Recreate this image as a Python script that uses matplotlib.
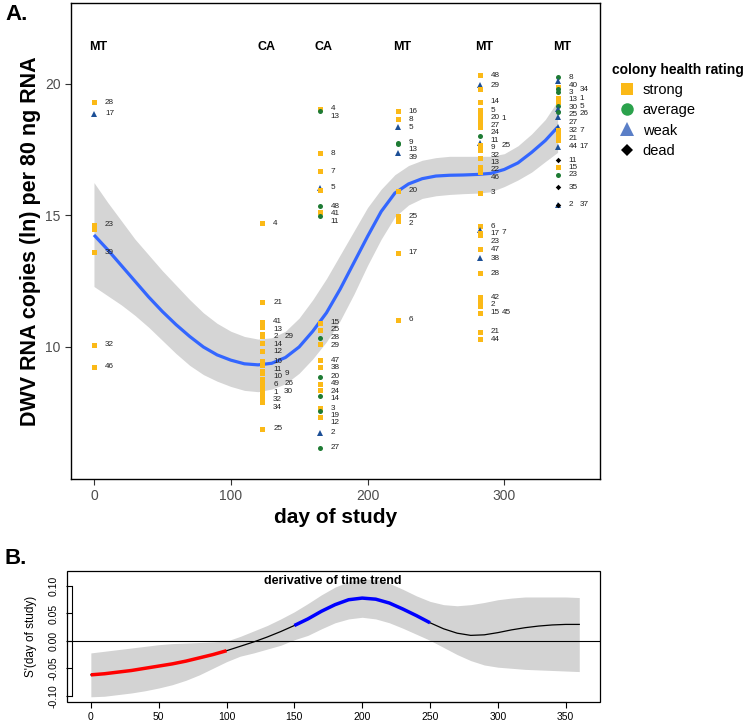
import matplotlib
matplotlib.use('Agg')
import matplotlib.pyplot as plt
from matplotlib.patches import Rectangle
from matplotlib.lines import Line2D
import numpy as np

plt.rcParams['font.family'] = ['Liberation Sans', 'DejaVu Sans']

# ---------------- data ----------------
col_days = [0, 123, 165, 222, 282, 339]
col_headers = ['MT', 'CA', 'CA', 'MT', 'MT', 'MT']

c0_vals = [19.3, 18.86, 14.65, 14.5, 13.6, 10.08, 9.25]
c0_health = ['s', 'w', 's', 's', 's', 's', 's']
c0_ids = ['28', '17', '23', '', '39', '32', '46']

c1_vals = [14.7, 11.7, 10.95, 10.75, 10.5, 10.4, 10.15, 9.85, 9.45, 9.3, 9.1, 9.0,
           8.8, 8.6, 8.4, 8.3, 8.1, 7.9, 6.9]
c1_health = ['s'] * 19
c1_ids = ['4', '21', '41', '13', '2', '29', '14', '12', '16', '11', '10', '9',
          '6', '26', '1', '30', '32', '34', '25']

c2_vals = [19.05, 18.98, 17.37, 16.69, 16.06, 15.98, 15.36, 15.15, 14.98, 10.93, 10.65,
           10.36, 10.11, 9.5, 9.25, 8.87, 8.6, 8.35, 8.14, 7.67, 7.55, 7.35, 6.74, 6.17]
c2_health = ['s', 'a', 's', 's', 'w', 's', 'a', 's', 'a', 's', 's',
             'a', 's', 's', 's', 'a', 's', 's', 'a', 's', 'a', 's', 'w', 'a']
c2_ids = ['4', '13', '8', '7', '5', '', '48', '41', '11', '15', '25',
          '28', '29', '47', '38', '20', '49', '24', '14', '3', '19', '12', '2', '27']

c3_vals = [18.97, 18.66, 18.35, 17.77, 17.72, 17.39, 15.94, 14.97, 14.8, 13.59, 11.03]
c3_health = ['s', 's', 'w', 'a', 'a', 'w', 's', 's', 's', 's', 's']
c3_ids = ['16', '8', '5', '9', '13', '39', '20', '25', '2', '17', '6']

c4_vals = [20.34, 19.96, 19.8, 19.33, 19.0, 18.9, 18.7, 18.5, 18.38, 18.02, 17.77, 17.68,
           17.49, 17.17, 16.85, 16.65, 15.87, 14.6, 14.45, 14.35, 14.25, 13.71, 13.37,
           12.8, 11.9, 11.75, 11.55, 11.31, 10.58, 10.3]
c4_health = ['s', 'w', 's', 's', 's', 's', 's', 's', 's', 'a', 'w', 's',
             's', 's', 's', 's', 's', 's', 'w', 's', 's', 's', 'w',
             's', 's', 's', 's', 's', 's', 's']
c4_ids = ['48', '29', '', '14', '5', '20', '1', '27', '24', '11', '9', '25',
          '32', '13', '22', '46', '3', '6', '17', '7', '23', '47', '38',
          '28', '42', '2', '15', '45', '21', '44']

c5_vals = [20.25, 20.1, 19.9, 19.8, 19.7, 19.46, 19.33, 19.15, 19.05, 18.95, 18.76, 18.38,
           18.25, 18.05, 17.87, 17.62, 17.11, 16.83, 16.54, 16.07, 15.4, 15.4]
c5_health = ['a', 'w', 's', 'a', 'a', 's', 's', 'a', 'w', 'a', 'w', 'w',
             's', 's', 's', 'w', 'd', 's', 'a', 'd', 'w', 'd']
c5_ids = ['8', '40', '3', '34', '13', '1', '30', '5', '25', '26', '27', '32',
          '7', '21', '44', '17', '11', '15', '23', '35', '2', '37']

columns = [(c0_vals, c0_health, c0_ids), (c1_vals, c1_health, c1_ids),
           (c2_vals, c2_health, c2_ids), (c3_vals, c3_health, c3_ids),
           (c4_vals, c4_health, c4_ids), (c5_vals, c5_health, c5_ids)]

smooth_day = [0, 10, 20, 30, 40, 50, 60, 70, 80, 90, 100, 110, 120, 130, 140, 150, 160, 170,
              180, 190, 200, 210, 220, 230, 240, 250, 260, 270, 280, 290, 300, 310, 320, 330, 339]
smooth_fit = [14.26, 13.7, 13.1, 12.5, 11.9, 11.35, 10.85, 10.4, 10.0, 9.7, 9.5, 9.36, 9.32,
              9.38, 9.6, 10.0, 10.6, 11.3, 12.2, 13.2, 14.2, 15.15, 15.85, 16.2, 16.4, 16.5,
              16.53, 16.54, 16.56, 16.6, 16.75, 17.0, 17.4, 17.85, 18.36]
smooth_upper = [16.25, 15.5, 14.8, 14.1, 13.5, 12.9, 12.35, 11.8, 11.3, 10.9, 10.6, 10.4, 10.3,
                10.35, 10.6, 11.1, 11.8, 12.6, 13.5, 14.4, 15.3, 16.0, 16.55, 16.9, 17.1, 17.2,
                17.25, 17.25, 17.25, 17.25, 17.35, 17.65, 18.1, 18.65, 19.35]
smooth_lower = [12.3, 11.95, 11.6, 11.2, 10.75, 10.25, 9.75, 9.3, 8.95, 8.7, 8.5, 8.35, 8.3,
                8.4, 8.6, 9.0, 9.55, 10.2, 11.0, 12.0, 13.1, 14.1, 14.95, 15.4, 15.65, 15.75,
                15.8, 15.83, 15.85, 15.9, 16.1, 16.35, 16.65, 17.05, 17.4]

deriv_day = [0, 10, 20, 30, 40, 50, 60, 70, 80, 90, 100, 110, 120, 130, 140, 150, 160, 170,
             180, 190, 200, 210, 220, 230, 240, 250, 260, 270, 280, 290, 300, 310, 320, 330,
             340, 350, 360]
deriv_fit = [-0.062, -0.060, -0.057, -0.054, -0.050, -0.046, -0.042, -0.037, -0.031, -0.025,
             -0.018, -0.010, -0.002, 0.007, 0.017, 0.028, 0.040, 0.054, 0.066, 0.075, 0.078,
             0.076, 0.069, 0.058, 0.046, 0.033, 0.022, 0.014, 0.010, 0.011, 0.015, 0.020,
             0.024, 0.027, 0.029, 0.030, 0.030]
deriv_upper = [-0.022, -0.019, -0.016, -0.013, -0.010, -0.007, -0.005, -0.004, -0.003, -0.002,
               -0.0005, 0.008, 0.018, 0.028, 0.040, 0.053, 0.068, 0.084, 0.098, 0.108, 0.113,
               0.112, 0.105, 0.094, 0.082, 0.072, 0.066, 0.064, 0.066, 0.070, 0.075, 0.078,
               0.080, 0.080, 0.080, 0.080, 0.079]
deriv_lower = [-0.102, -0.101, -0.098, -0.095, -0.091, -0.086, -0.080, -0.072, -0.062, -0.050,
               -0.038, -0.028, -0.022, -0.015, -0.008, 0.002, 0.010, 0.022, 0.033, 0.040, 0.043,
               0.040, 0.033, 0.023, 0.012, 0.001, -0.012, -0.025, -0.036, -0.044, -0.048, -0.050,
               -0.052, -0.053, -0.054, -0.055, -0.056]

health_color = {'s': '#FBB917', 'a': '#1E7B34', 'w': '#1C4F96', 'd': '#000000'}
health_marker = {'s': 's', 'a': 'o', 'w': '^', 'd': 'D'}
health_size = {'s': 3.6, 'a': 3.6, 'w': 4.2, 'd': 2.8}

# ---------------- figure ----------------
fig = plt.figure(figsize=(7.49, 7.24), dpi=100)

axA = fig.add_axes([71 / 749, 1 - 479 / 724, (600 - 71) / 749, (479 - 3) / 724])
axA.set_xlim(-16.8, 370)
axA.set_ylim(4.98, 23.08)

axA.fill_between(smooth_day, smooth_lower, smooth_upper, color='#D5D5D5', lw=0, zorder=1)
axA.plot(smooth_day, smooth_fit, color='#3366FF', lw=2.3, zorder=3, solid_capstyle='butt')

# pixel scale for label placement
px_per_day = (600 - 71) / (370 + 16.8)
px_per_unit = (479 - 3) / (23.08 - 4.98)
gap_px = 7.0
digit_px = 4.6

for d, (vals, hs, ids) in zip(col_days, columns):
    for v, h in zip(vals, hs):
        axA.plot([d], [v], marker=health_marker[h], color=health_color[h],
                 markersize=health_size[h], linestyle='none', zorder=4,
                 markeredgewidth=0)
    lab = [(v, t) for v, t in zip(vals, ids) if t]
    lab.sort(key=lambda p: -p[0])
    placed = []  # (x0, x1, y) pixel offsets, y downward

    def conflict(x0, x1, y):
        for (a0, a1, b) in placed:
            if abs(b - y) < gap_px and not (x1 <= a0 - 1 or x0 >= a1 + 1):
                return True
        return False

    for v, t in lab:
        w = len(t) * digit_px
        y0 = -v * px_per_unit
        cands = [(11, y0 + k) for k in (0, -1, 1, 2, 3)]
        if len(t) == 1:
            cands += [(6, y0 + k) for k in (0, 1, 2)]
        cands += [(11, y0 + k) for k in (4, 5, 6)]
        cands += [(22, y0 + k) for k in (0, 1, 2)]
        chosen = None
        for cx, cy in cands:
            if not conflict(cx, cx + w, cy):
                chosen = (cx, cy)
                break
        if chosen is None:
            y = y0
            while conflict(11, 11 + w, y):
                y += 0.5
            chosen = (11, y)
        cx, y = chosen
        placed.append((cx, cx + w, y))
        axA.text(d + cx / px_per_day, -y / px_per_unit, t, fontsize=5.9, ha='left',
                 va='center', color='#222222', zorder=5)

for d, h in zip(col_days, col_headers):
    axA.text(d + 3, 21.4, h, fontsize=9, fontweight='bold', ha='center', va='center')

axA.set_xticks([0, 100, 200, 300])
axA.set_yticks([10, 15, 20])
axA.tick_params(direction='out', length=4, width=0.8, labelsize=10, labelcolor='#4D4D4D',
                color='#333333')
for s in axA.spines.values():
    s.set_linewidth(1.0)
    s.set_color('black')
axA.set_xlabel('day of study', fontsize=15, fontweight='bold', labelpad=3)
axA.set_ylabel('DWV RNA copies (ln) per 80 ng RNA', fontsize=15.5, fontweight='bold',
               labelpad=3)

leg_handles = [
    Line2D([], [], marker='s', color='#FBB917', linestyle='none', markersize=9, markeredgewidth=0),
    Line2D([], [], marker='o', color='#2BA24C', linestyle='none', markersize=9, markeredgewidth=0),
    Line2D([], [], marker='^', color='#5B7FC7', linestyle='none', markersize=10, markeredgewidth=0),
    Line2D([], [], marker='D', color='black', linestyle='none', markersize=6.5, markeredgewidth=0),
]
fig.legend(leg_handles, ['strong', 'average', 'weak', 'dead'], title='colony health rating',
           loc='upper left', bbox_to_anchor=(602 / 749, 1 - 53 / 724), frameon=False,
           fontsize=10.5, title_fontproperties={'weight': 'bold', 'size': 10},
           handlelength=2.0, handletextpad=0.1, labelspacing=0.42, alignment='left',
           borderpad=0.2)

fig.text(5 / 749, 1 - 15 / 724, 'A.', fontsize=16, fontweight='bold', va='center', ha='left')
fig.text(5 / 749, 1 - 559 / 724, 'B.', fontsize=16, fontweight='bold', va='center', ha='left')

# ---------------- panel B ----------------
axB = fig.add_axes([66.7 / 749, 1 - 702 / 724, (599.6 - 66.7) / 749, (702 - 571) / 724])
axB.set_xlim(-17.8, 375)
axB.set_ylim(-0.1115, 0.1274)

axB.fill_between(deriv_day, deriv_lower, deriv_upper, color='#D3D3D3', lw=0, zorder=1)
axB.axhline(0, color='black', lw=0.8, zorder=2)
axB.plot(deriv_day, deriv_fit, color='black', lw=0.9, zorder=3)

dd = np.array(deriv_day, dtype=float)
df = np.array(deriv_fit)
du = np.array(deriv_upper)
dl = np.array(deriv_lower)
neg = du < 0
pos = dl > 0
axB.plot(np.where(neg, dd, np.nan), np.where(neg, df, np.nan), color='red', lw=2.5, zorder=4,
         solid_capstyle='butt')
axB.plot(np.where(pos, dd, np.nan), np.where(pos, df, np.nan), color='blue', lw=2.5, zorder=4,
         solid_capstyle='butt')

axB.text(0.5, 1 - 10 / 131, 'derivative of time trend', transform=axB.transAxes,
         fontsize=9, fontweight='bold', ha='center', va='center')
for s in ['top', 'right']:
    axB.spines[s].set_visible(False)
axB.spines['bottom'].set_bounds(0, 350)
axB.spines['left'].set_position(('outward', -4))
axB.spines['left'].set_bounds(-0.10, 0.10)
axB.add_patch(Rectangle((0, 0), 1, 1, transform=axB.transAxes, fill=False, lw=0.9,
                        edgecolor='black', clip_on=False, zorder=6))
axB.set_xticks([0, 50, 100, 150, 200, 250, 300, 350])
axB.set_yticks([-0.10, -0.05, 0.00, 0.05, 0.10])
axB.set_yticklabels(['-0.10', '-0.05', '0.00', '0.05', '0.10'], rotation=90, va='center')
axB.tick_params(axis='x', direction='out', length=4, width=0.8, labelsize=7.5)
axB.tick_params(axis='y', direction='out', length=4, width=0.8, labelsize=7.5, pad=6)
axB.set_ylabel("S'(day of study)", fontsize=8.5, labelpad=8)

fig.savefig('out.png', dpi=100)
